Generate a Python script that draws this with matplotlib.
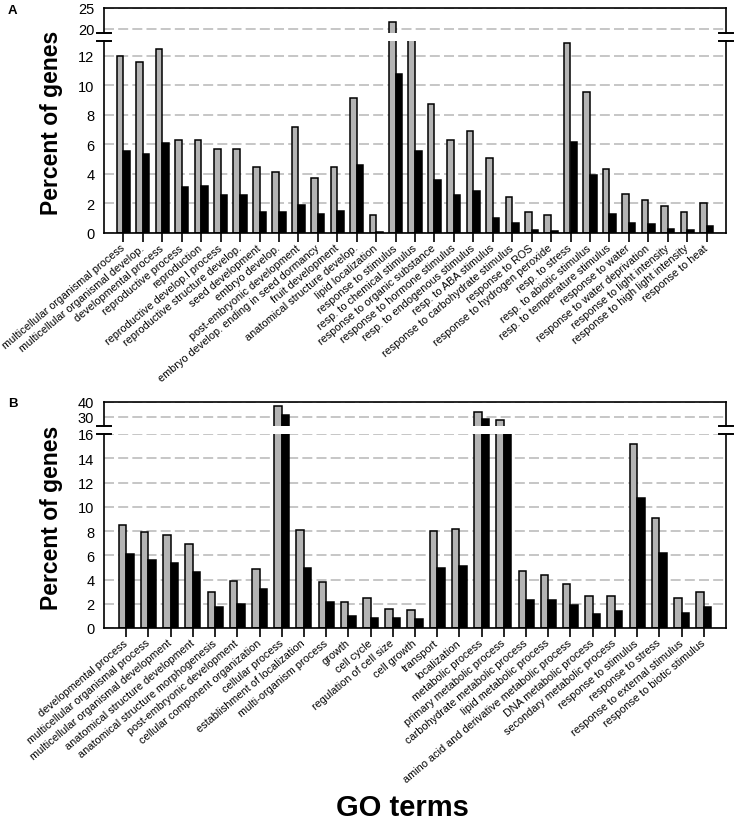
import matplotlib
matplotlib.use("Agg")
import matplotlib.pyplot as plt
import numpy as np

plt.rcParams['font.family'] = ['Liberation Sans', 'DejaVu Sans']

# ---- panel A data ----
terms_a = [
    'multicellular organismal process', 'multicellular organismal develop.',
    'developmental process', 'reproductive process', 'reproduction',
    'reproductive develop.l process', 'reproductive structure develop.',
    'seed development', 'embryo develop.', 'post-embryonic development',
    'embryo develop. ending in seed dormancy', 'fruit development',
    'anatomical structure develop.', 'lipid localization', 'response to stimulus',
    'resp. to chemical stimulus', 'response to organic substance',
    'response to hormone stimulus', 'resp. to endogenous stimulus',
    'resp. to ABA stimulus', 'response to carbohydrate stimulus',
    'response to ROS', 'response to hydrogen peroxide', 'resp. to stress',
    'resp. to abiotic stimulus', 'resp. to temperature stimulus',
    'response to water', 'response to water deprivation',
    'response to light intensity', 'response to high light intensity',
    'response to heat',
]
grey_a = [12.0, 11.6, 12.45, 6.3, 6.3, 5.7, 5.7, 4.45, 4.1, 7.15, 3.7, 4.45,
          9.15, 1.2, 21.6, 16.0, 8.75, 6.3, 6.9, 5.1, 2.45, 1.4, 1.2, 12.85,
          9.55, 4.3, 2.65, 2.25, 1.85, 1.45, 2.05]
black_a = [5.55, 5.35, 6.1, 3.1, 3.15, 2.6, 2.6, 1.45, 1.45, 1.9, 1.3, 1.5,
           4.6, 0.08, 10.75, 5.55, 3.6, 2.6, 2.85, 1.0, 0.65, 0.22, 0.15, 6.15,
           3.9, 1.3, 0.65, 0.6, 0.25, 0.18, 0.45]

# ---- panel B data ----
terms_b = [
    'developmental process', 'multicellular organismal process',
    'multicellular organismal development', 'anatomical structure development',
    'anatomical structure morphogenesis', 'post-embryonic development',
    'cellular component organization', 'cellular process',
    'establishment of localization', 'multi-organism process', 'growth',
    'cell cycle', 'regulation of cell size', 'cell growth', 'transport',
    'localization', 'metabolic process', 'primary metabolic process',
    'carbohydrate metabolic process', 'lipid metabolic process',
    'amino acid and derivative metabolic process', 'DNA metabolic process',
    'secondary metabolic process', 'response to stimulus', 'response to stress',
    'response to external stimulus', 'response to biotic stimulus',
]
grey_b = [8.5, 7.95, 7.65, 6.9, 3.0, 3.85, 4.85, 37.4, 8.1, 3.8, 2.15, 2.5,
          1.6, 1.5, 8.0, 8.2, 33.2, 28.3, 4.7, 4.35, 3.65, 2.65, 2.6, 15.2,
          9.1, 2.45, 3.0]
black_b = [6.1, 5.6, 5.4, 4.6, 1.75, 2.0, 3.2, 31.3, 4.95, 2.15, 1.0, 0.8,
           0.8, 0.75, 4.95, 5.15, 28.5, 20.0, 2.35, 2.3, 1.9, 1.15, 1.4, 10.75,
           6.2, 1.25, 1.75]

GREY = '#b4b4b4'
GRID = '#bcbcbc'
W, H = 737, 828


def px_rect(top, bottom, left=104, right=726):
    return [left / W, 1 - bottom / H, (right - left) / W, (bottom - top) / H]


def draw_panel(fig, top_px, bot_px, terms, grey, black, top_lim, bot_lim,
               top_ticks, bot_ticks):
    ax_t = fig.add_axes(px_rect(*top_px))
    ax_b = fig.add_axes(px_rect(*bot_px))
    x = np.arange(len(terms))
    w = 0.34
    for ax in (ax_t, ax_b):
        ax.bar(x - w / 2, grey, w, color=GREY, edgecolor='black', lw=1.1)
        ax.bar(x + w / 2, black, w, color='black', edgecolor='black', lw=1.1)
        ax.set_xlim(-1, len(terms))
        ax.set_axisbelow(True)
        ax.yaxis.grid(True, color=GRID, linestyle=(0, (6, 2.5)), lw=1.2)
        ax.tick_params(axis='y', length=0, pad=7, labelsize=10.5)
        for s in ax.spines.values():
            s.set_linewidth(1.2)
    ax_t.set_ylim(*top_lim)
    ax_t.set_yticks(top_ticks)
    ax_t.spines['bottom'].set_visible(False)
    ax_t.set_xticks([])
    ax_b.set_ylim(*bot_lim)
    ax_b.set_yticks(bot_ticks)
    ax_b.spines['top'].set_visible(False)
    ax_b.set_xticks(x)
    ax_b.set_xticklabels(terms, rotation=40, ha='right', va='center',
                         rotation_mode='anchor', fontsize=7.8)
    ax_b.tick_params(axis='x', direction='out', length=6.5, width=1.2, pad=3)
    # axis break marks
    d = 0.012
    for xx in (0, 1):
        ax_t.plot([xx - d, xx + d], [0, 0], transform=ax_t.transAxes,
                  color='black', lw=1.4, clip_on=False)
        ax_b.plot([xx - d, xx + d], [1, 1], transform=ax_b.transAxes,
                  color='black', lw=1.4, clip_on=False)
    return ax_t, ax_b


fig = plt.figure(figsize=(W / 100, H / 100), dpi=100)

draw_panel(fig, (9, 34), (42, 234), terms_a, grey_a, black_a,
           (19, 25), (0, 13), [20, 25], list(range(0, 13, 2)))
draw_panel(fig, (403, 427), (435, 629), terms_b, grey_b, black_b,
           (24, 40), (0, 16), [30, 40], list(range(0, 17, 2)))

fig.text(52 / W, 1 - 123 / H, 'Percent of genes', rotation=90, ha='center',
         va='center', fontsize=16.5, fontweight='bold')
fig.text(52 / W, 1 - 518 / H, 'Percent of genes', rotation=90, ha='center',
         va='center', fontsize=16.5, fontweight='bold')
fig.text(402 / W, 1 - 808 / H, 'GO terms', ha='center', va='center',
         fontsize=21, fontweight='bold')
fig.text(8 / W, 1 - 11 / H, 'A', ha='left', va='center', fontsize=9.5,
         fontweight='bold')
fig.text(8 / W, 1 - 404 / H, 'B', ha='left', va='center', fontsize=9.5,
         fontweight='bold')

fig.savefig('out.png', dpi=100)
